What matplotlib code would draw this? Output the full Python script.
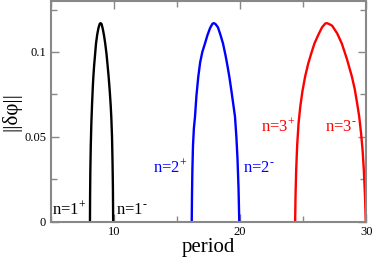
import matplotlib
matplotlib.use("Agg")
import matplotlib.pyplot as plt
from matplotlib.ticker import MultipleLocator, FixedLocator

# Data
n1_period = [8.10, 8.11, 8.13, 8.165, 8.21, 8.27, 8.33, 8.37, 8.43, 8.50, 8.58, 8.67, 8.77, 8.87, 8.94,
             9.02, 9.12, 9.22, 9.31, 9.41, 9.50, 9.58, 9.67, 9.74, 9.79, 9.85, 9.89, 9.92, 9.94]
n1_norm   = [0.0, 0.015, 0.030, 0.045, 0.058, 0.070, 0.080, 0.0855, 0.092, 0.098, 0.105, 0.110, 0.114, 0.1165, 0.117,
             0.1165, 0.1135, 0.1095, 0.105, 0.099, 0.092, 0.0855, 0.077, 0.069, 0.062, 0.050, 0.035, 0.020, 0.0]

n2_period = [16.17, 16.19, 16.22, 16.27, 16.34, 16.43, 16.54, 16.69, 16.84, 17.01, 17.22, 17.42, 17.62, 17.80, 17.91,
             18.05, 18.25, 18.45, 18.65, 18.85, 19.00, 19.15, 19.30, 19.45, 19.60, 19.71, 19.80, 19.88, 19.94]
n2_norm   = [0.0, 0.015, 0.030, 0.045, 0.055, 0.062, 0.074, 0.0855, 0.094, 0.100, 0.105, 0.110, 0.114, 0.1165, 0.117,
             0.1165, 0.1145, 0.110, 0.105, 0.098, 0.092, 0.0855, 0.078, 0.070, 0.062, 0.050, 0.037, 0.020, 0.0]

n3_period = [24.37, 24.40, 24.45, 24.53, 24.64, 24.78, 24.95, 25.16, 25.40, 25.64, 25.90, 26.20, 26.50, 26.75, 26.87,
             27.05, 27.30, 27.70, 28.07, 28.47, 28.87, 29.10, 29.28, 29.45, 29.60, 29.72, 29.82, 29.91, 29.97]
n3_norm   = [0.0, 0.015, 0.030, 0.045, 0.058, 0.068, 0.077, 0.0855, 0.093, 0.099, 0.105, 0.110, 0.1145, 0.1167, 0.117,
             0.1165, 0.1155, 0.111, 0.105, 0.096, 0.0855, 0.078, 0.070, 0.062, 0.052, 0.042, 0.030, 0.015, 0.0]

labels = ["n=1$^{+}$", "n=1$^{\\text{-}}$", "n=2$^{+}$", "n=2$^{\\text{-}}$", "n=3$^{+}$", "n=3$^{\\text{-}}$"]
label_x = [5.1, 10.2, 13.1, 20.2, 21.7, 26.7]
label_y = [0.002, 0.002, 0.027, 0.027, 0.051, 0.051]
label_c = ["black", "black", "blue", "blue", "red", "red"]

xticks = [10, 20, 30]
yticks = [0, 0.05, 0.1]
yticklabels = ["0", "0.05", "0.1"]

plt.rcParams['font.family'] = ['Liberation Serif', 'DejaVu Serif']
plt.rcParams['mathtext.fontset'] = 'custom'
plt.rcParams['mathtext.rm'] = 'Liberation Serif'
plt.rcParams['mathtext.it'] = 'Liberation Serif:italic'

fig = plt.figure(figsize=(3.74, 2.58), dpi=100)
ax = fig.add_axes([0.136, 0.140, 0.843, 0.856])

ax.plot(n1_period, n1_norm, color="black", lw=1.7)
ax.plot(n2_period, n2_norm, color="blue", lw=1.7)
ax.plot(n3_period, n3_norm, color="red", lw=1.7)

for t, x, y, c in zip(labels, label_x, label_y, label_c):
    ax.text(x, y, t, color=c, fontsize=12, ha="left", va="bottom")

ax.set_xlim(5, 30)
ax.set_ylim(0, 0.13)
ax.xaxis.set_major_locator(FixedLocator(xticks))
ax.xaxis.set_minor_locator(MultipleLocator(5))
ax.set_yticks(yticks)
ax.set_yticklabels(yticklabels)
ax.yaxis.set_minor_locator(MultipleLocator(0.025))

ax.tick_params(which="both", direction="in", top=True, right=True, color="#888888", labelsize=9, width=1)
ax.tick_params(which="major", length=6)
ax.tick_params(which="minor", length=4)
ax.tick_params(axis="x", pad=3)
for s in ax.spines.values():
    s.set_color("#888888")
    s.set_linewidth(1.5)

ax.set_xlabel("period", fontsize=15, labelpad=0)
ax.set_ylabel("||δφ||", fontsize=15)
ax.yaxis.set_label_coords(-0.125, 0.5)
ax.yaxis.label.set_va("center")

fig.savefig("out.png", dpi=100)
